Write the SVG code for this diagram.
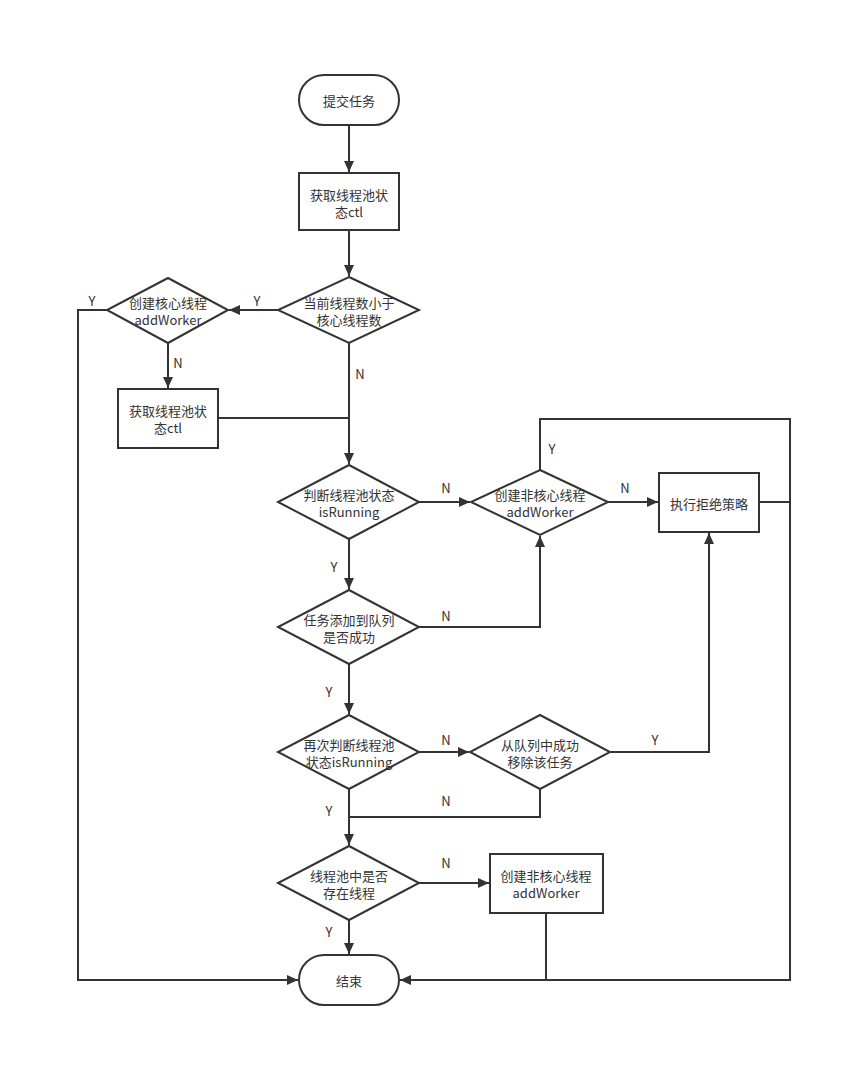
<svg xmlns="http://www.w3.org/2000/svg" width="850" height="1067" viewBox="0 0 850 1067">
<style>
.s{fill:#fff;stroke:#333;stroke-width:2}
.c{fill:none;stroke:#333;stroke-width:2}
text{font-family:"Noto Sans CJK SC","Noto Sans",sans-serif;font-size:13px;fill:#333;text-anchor:middle;dominant-baseline:central}
.l{font-size:13px}
</style>
<defs>
<marker id="a" markerUnits="userSpaceOnUse" markerWidth="11" markerHeight="10" refX="11" refY="5" orient="auto"><path d="M0,0 L11,5 L0,10 z" fill="#333"/></marker>
</defs>
<rect width="850" height="1067" fill="#fff"/>
<g id="connectors">
<path class="c" d="M349,125 V172" marker-end="url(#a)"/>
<path class="c" d="M349,230 V276" marker-end="url(#a)"/>
<path class="c" d="M278,310 H229" marker-end="url(#a)"/>
<path class="c" d="M168,343 V388" marker-end="url(#a)"/>
<path class="c" d="M349,343 V464" marker-end="url(#a)"/>
<path class="c" d="M218,418 H349"/>
<path class="c" d="M107,310 H78 V980 H298" marker-end="url(#a)"/>
<path class="c" d="M419,502 H470" marker-end="url(#a)"/>
<path class="c" d="M540,470 V419 H790 V980 H400" marker-end="url(#a)"/>
<path class="c" d="M608,502 H658" marker-end="url(#a)"/>
<path class="c" d="M759,502 H790"/>
<path class="c" d="M349,539 V589" marker-end="url(#a)"/>
<path class="c" d="M419,627 H540 V536" marker-end="url(#a)"/>
<path class="c" d="M349,664 V714" marker-end="url(#a)"/>
<path class="c" d="M419,752 H469" marker-end="url(#a)"/>
<path class="c" d="M610,752 H709 V533" marker-end="url(#a)"/>
<path class="c" d="M540,789 V817 H349"/>
<path class="c" d="M349,789 V845" marker-end="url(#a)"/>
<path class="c" d="M419,883 H489" marker-end="url(#a)"/>
<path class="c" d="M546,913 V980"/>
<path class="c" d="M349,920 V954" marker-end="url(#a)"/>
<text class="l" x="92" y="300">Y</text>
<text class="l" x="257" y="300">Y</text>
<text class="l" x="178" y="362">N</text>
<text class="l" x="360" y="373">N</text>
<text class="l" x="552" y="448">Y</text>
<text class="l" x="446" y="487">N</text>
<text class="l" x="625" y="487">N</text>
<text class="l" x="334" y="566">Y</text>
<text class="l" x="446" y="615">N</text>
<text class="l" x="329" y="691">Y</text>
<text class="l" x="446" y="739">N</text>
<text class="l" x="655" y="739">Y</text>
<text class="l" x="446" y="800">N</text>
<text class="l" x="329" y="810">Y</text>
<text class="l" x="446" y="862">N</text>
<text class="l" x="329" y="931">Y</text>
</g>
<g id="start"><rect class="s" x="299" y="75" width="100" height="50" rx="25"/><text x="349" y="100">提交任务</text></g>
<g id="getState1"><rect class="s" x="299" y="173" width="100" height="57"/><text x="349" y="194">获取线程池状</text><text x="349" y="211">态ctl</text></g>
<g id="lessCore"><polygon class="s" points="349,277 419,310 349,343 278,310"/><text x="349" y="302">当前线程数小于</text><text x="349" y="319">核心线程数</text></g>
<g id="addCore"><polygon class="s" points="168,278 228,310 168,343 107,310"/><text x="168" y="302">创建核心线程</text><text x="168" y="319">addWorker</text></g>
<g id="getState2"><rect class="s" x="118" y="389" width="100" height="59"/><text x="168" y="410">获取线程池状</text><text x="168" y="427">态ctl</text></g>
<g id="isRunning1"><polygon class="s" points="349,465 419,502 349,539 278,502"/><text x="349" y="494">判断线程池状态</text><text x="349" y="511">isRunning</text></g>
<g id="addNonCore1"><polygon class="s" points="540,470 608,502 540,535 471,502"/><text x="540" y="494">创建非核心线程</text><text x="540" y="511">addWorker</text></g>
<g id="reject"><rect class="s" x="659" y="473" width="100" height="59"/><text x="709" y="503">执行拒绝策略</text></g>
<g id="offerQueue"><polygon class="s" points="349,590 419,627 349,664 278,627"/><text x="349" y="619">任务添加到队列</text><text x="349" y="636">是否成功</text></g>
<g id="isRunning2"><polygon class="s" points="349,715 419,752 349,789 278,752"/><text x="349" y="744">再次判断线程池</text><text x="349" y="761">状态isRunning</text></g>
<g id="removeTask"><polygon class="s" points="540,715 610,752 540,789 470,752"/><text x="540" y="744">从队列中成功</text><text x="540" y="761">移除该任务</text></g>
<g id="hasThread"><polygon class="s" points="349,846 419,883 349,920 278,883"/><text x="349" y="875">线程池中是否</text><text x="349" y="892">存在线程</text></g>
<g id="addNonCore2"><rect class="s" x="490" y="854" width="113" height="59"/><text x="546" y="875">创建非核心线程</text><text x="546" y="892">addWorker</text></g>
<g id="end"><rect class="s" x="299" y="955" width="100" height="50" rx="25"/><text x="349" y="980">结束</text></g>
</svg>
